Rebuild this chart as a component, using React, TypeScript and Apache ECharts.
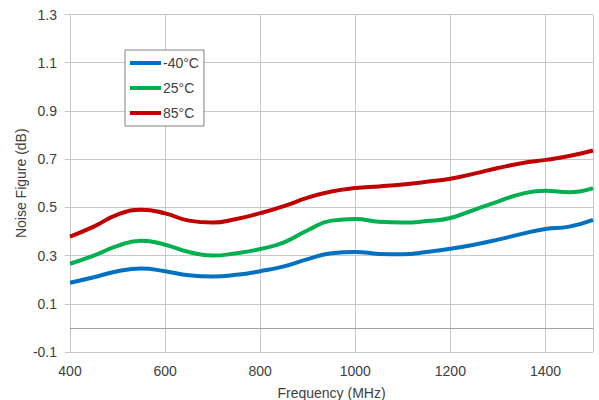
import React, { useEffect, useRef } from "react";
import * as echarts from "echarts";

const freqs = [400, 450, 500, 550, 600, 650, 700, 750, 800, 850, 900, 950, 1000, 1050, 1100, 1150, 1200, 1250, 1300, 1350, 1400, 1450, 1500];
const coldNF = [0.187, 0.21, 0.235, 0.246, 0.235, 0.218, 0.213, 0.22, 0.235, 0.255, 0.285, 0.31, 0.315, 0.307, 0.305, 0.315, 0.328, 0.345, 0.366, 0.39, 0.41, 0.42, 0.448];
const roomNF = [0.266, 0.3, 0.34, 0.362, 0.345, 0.315, 0.3, 0.31, 0.327, 0.355, 0.405, 0.445, 0.452, 0.44, 0.437, 0.443, 0.456, 0.49, 0.524, 0.556, 0.569, 0.563, 0.58];
const hotNF = [0.379, 0.42, 0.47, 0.49, 0.475, 0.445, 0.437, 0.452, 0.476, 0.505, 0.54, 0.566, 0.58, 0.587, 0.595, 0.606, 0.619, 0.64, 0.663, 0.683, 0.697, 0.713, 0.736];
const seriesNames = ["-40°C", "25°C", "85°C"];
const seriesColors = ["#0070C0", "#00B050", "#C00000"];
const yTicks = [-0.1, 0.1, 0.3, 0.5, 0.7, 0.9, 1.1, 1.3];

const FONT = "Liberation Sans, Arial, sans-serif";
const TXT = "#404040";
const FS = 14;

export default function App() {
  const ref = useRef<HTMLDivElement>(null);
  useEffect(() => {
    if (!ref.current) return;
    const chart = echarts.init(ref.current, undefined, { renderer: "svg" });
    const all = [coldNF, roomNF, hotNF];
    chart.setOption({
      animation: false,
      textStyle: { fontFamily: FONT },
      grid: { left: 70, right: 6, top: 14.5, bottom: 48, containLabel: false, outerBoundsMode: "none" },
      legend: {
        left: 125,
        top: 50,
        orient: "vertical",
        data: seriesNames.map((n) => ({ name: n, icon: "rect" })),
        itemWidth: 31,
        itemHeight: 4,
        itemGap: 11,
        padding: [6, 5, 6, 5],
        borderColor: "#808080",
        borderWidth: 1,
        backgroundColor: "#fff",
        textStyle: { fontFamily: FONT, fontSize: FS, color: TXT, padding: [0, 0, 0, -3] },
      },
      xAxis: {
        type: "value",
        min: 400,
        max: 1500,
        interval: 200,
        name: "Frequency (MHz)",
        nameLocation: "middle",
        nameGap: 34,
        nameTextStyle: { fontFamily: FONT, fontSize: FS, color: TXT },
        axisLine: { show: true, lineStyle: { color: "#c8c8c8" } },
        axisTick: { show: false },
        axisLabel: {
          fontFamily: FONT,
          fontSize: FS,
          color: TXT,
          margin: 12,
          showMaxLabel: false,
          formatter: (v: number) => String(v),
        },
        splitLine: { show: true, lineStyle: { color: "#c8c8c8", width: 1 } },
      },
      yAxis: {
        type: "value",
        min: -0.1,
        max: 1.3,
        name: "Noise Figure (dB)",
        nameLocation: "middle",
        nameGap: 42,
        nameMoveOverlap: false,
        nameTextStyle: { fontFamily: FONT, fontSize: FS, color: TXT },
        axisLine: { show: true, lineStyle: { color: "#c8c8c8" } },
        axisTick: { show: true, inside: false, length: 5, customValues: yTicks, lineStyle: { color: "#c8c8c8" } },
        axisLabel: {
          fontFamily: FONT,
          fontSize: FS,
          color: TXT,
          margin: 13,
          customValues: yTicks,
          formatter: (v: number) => v.toFixed(1),
        },
        splitLine: { show: true, lineStyle: { color: "#c8c8c8", width: 1 } },
      },
      series: seriesNames.map((name, i) => ({
        name,
        type: "line",
        smooth: 0.5,
        symbol: "none",
        data: freqs.map((f, j) => [f, all[i][j]]),
        lineStyle: { color: seriesColors[i], width: 4 },
        itemStyle: { color: seriesColors[i] },
        z: 3 + i,
        markLine:
          i === 0
            ? {
                silent: true,
                symbol: "none",
                label: { show: false },
                lineStyle: { color: "#a0a0a0", type: "solid", width: 1 },
                data: [{ yAxis: 0 }],
                z: 1,
              }
            : undefined,
      })),
    });
    return () => chart.dispose();
  }, []);
  return <div ref={ref} style={{ width: 599, height: 400, position: "absolute", left: 0, top: 0 }} />;
}
